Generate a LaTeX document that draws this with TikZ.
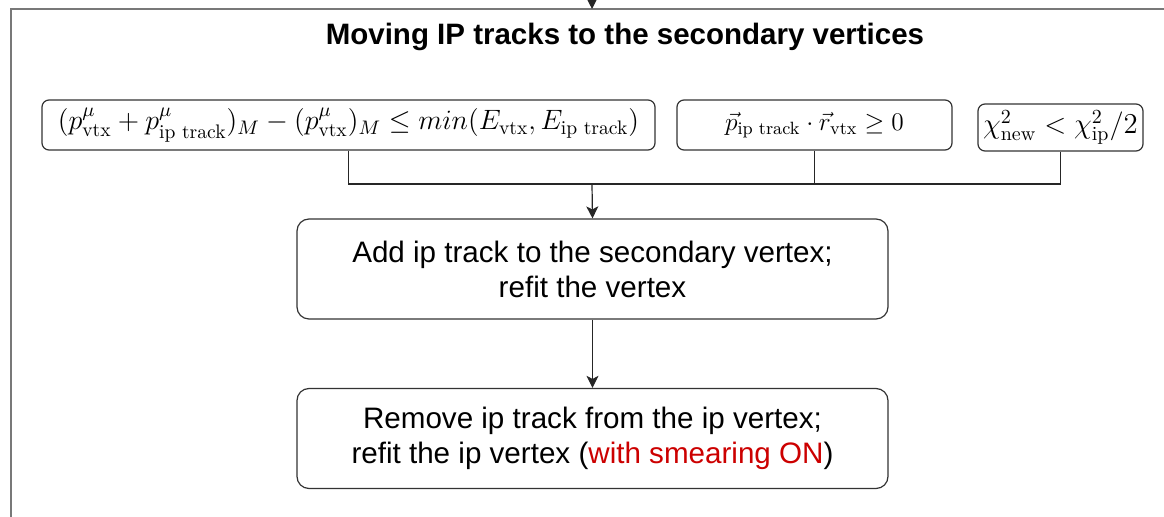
\documentclass[tikz,border=0pt]{standalone}
\usepackage{fix-cm}
\usepackage{amsmath,amssymb}
\usepackage{fontspec}
\newfontfamily\helv{Liberation Sans}
\usepackage{tikz}
\usetikzlibrary{arrows.meta}
\usetikzlibrary{positioning}

\definecolor{smearred}{RGB}{204,0,0}
\definecolor{framegray}{RGB}{120,120,120}

\begin{document}
\begin{tikzpicture}[x=0.5pt,y=-0.5pt,
    cond/.style={draw=black!80, line width=0.6pt, rounded corners=3.5pt,
        inner sep=0pt, minimum height=25pt, font=\fontsize{14.4}{16}\selectfont},
    stepbox/.style={draw=black!80, line width=0.6pt, rounded corners=6pt,
        inner sep=0pt, minimum width=295.5pt, minimum height=50pt, align=center,
        font=\helv\fontsize{14.8}{17.5}\selectfont},
    link/.style={draw=black!85, line width=0.6pt},
    tip/.style={-{Stealth[length=6pt,width=6pt,inset=1.5pt]}}]
\useasboundingbox (0,0) rectangle (1164,517);

% frame of the block
\draw[framegray, line width=0.9pt] (1164,9) -- (11,9) -- (11,517);
\coordinate (in) at (592,-4);
\coordinate (intop) at (592,9);
\draw[link, tip] (in) -- (intop);
\node[anchor=base, font=\helv\bfseries\fontsize{14.75}{17}\selectfont] (title) at (625,45)
    {Moving IP tracks to the secondary vertices};

% the three cuts
\node[cond, minimum width=306.5pt, font=\fontsize{14}{16}\selectfont] (mass) at (348.5,125)
    {$(p^{\mu}_{\mathrm{vtx}} + p^{\mu}_{\text{ip track}})_M - (p^{\mu}_{\mathrm{vtx}})_M \leq min(E_{\mathrm{vtx}}, E_{\text{ip track}})$};
\node[cond, minimum width=137.5pt, font=\fontsize{12.7}{15}\selectfont] (dir) at (814.5,125)
    {$\vec{p}_{\text{ip track}}\cdot\vec{r}_{\mathrm{vtx}} \geq 0$};
\node[cond, minimum width=82.5pt, minimum height=23.5pt] (chi) at (1060.5,127.5)
    {$\chi^2_{\mathrm{new}} < \chi^2_{\mathrm{ip}}/2$};

% the two steps
\node[stepbox] (add) at (592.5,269)
    {Add ip track to the secondary vertex;\\refit the vertex};
\node[stepbox] (remove) at (592.5,438.5)
    {Remove ip track from the ip vertex;\\refit the ip vertex ({\color{smearred}with smearing ON})};

% joining the cuts
\coordinate (bus) at (592,184);
\draw[link] (mass.south) |- (bus);
\draw[link] (dir.south) |- (bus);
\draw[link] (chi.south) |- (bus);
\draw[link, tip] (bus) -- (add.north);
\draw[link, tip] (add) -- (remove);

\end{tikzpicture}
\end{document}
